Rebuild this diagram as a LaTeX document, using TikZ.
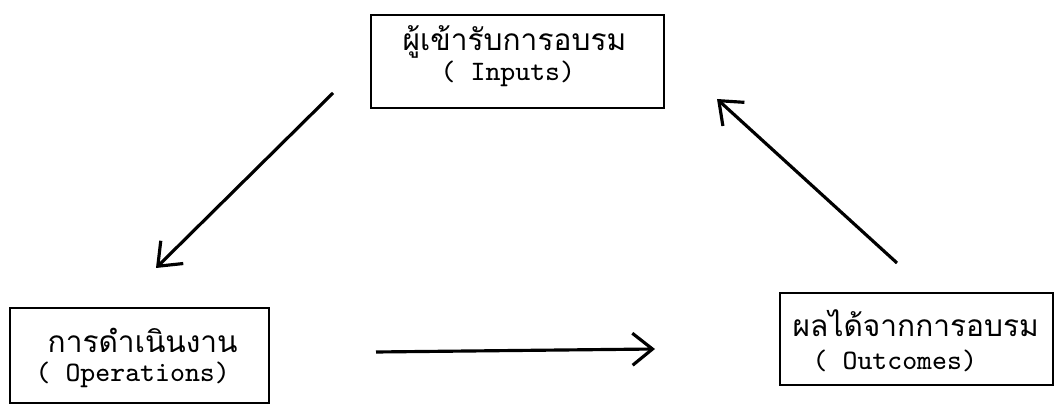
\documentclass[tikz,border=0pt]{standalone}
\usepackage{fontspec}
\newfontfamily\thaifont[Script=Thai]{Loma}
\usetikzlibrary{arrows.meta}
\tikzset{
  box/.style={draw, line width=0.6pt, inner sep=0pt},
  thtext/.style={anchor=west, inner sep=0pt, font=\thaifont\fontsize{8.5pt}{10pt}\selectfont},
  entext/.style={anchor=west, inner sep=0pt, font=\ttfamily\fontsize{8pt}{9pt}\selectfont},
  flow/.style={-{Straight Barb[length=2mm,width=3.2mm]}, line width=0.9pt},
}
\begin{document}
\begin{tikzpicture}[x=1cm,y=-1cm]
    \useasboundingbox (0,0) rectangle (10.54,4.05);
    % boxes
    \node[box, minimum width=2.93cm, minimum height=0.93cm] (inputs) at (5.175,0.615) {};
    \node[box, minimum width=2.59cm, minimum height=0.95cm] (operations) at (1.395,3.555) {};
    \node[box, minimum width=2.73cm, minimum height=0.92cm] (outcomes) at (9.165,3.39) {};
    % texts
    \node[thtext] (inputsth) at (4.02,0.42) {ผู้เข้ารับการอบรม};
    \node[entext] (inputsen) at (4.40,0.74) {( Inputs)};
    \node[thtext] (operationsth) at (0.47,3.40) {การดำเนินงาน};
    \node[entext] (operationsen) at (0.35,3.75) {( Operations)};
    \node[thtext] (outcomesth) at (7.92,3.23) {ผลได้จากการอบรม};
    \node[entext] (outcomesen) at (8.12,3.61) {( Outcomes)};
    % arrows
    \coordinate (a1s) at (3.33,0.93);
    \coordinate (a1e) at (1.56,2.68);
    \coordinate (a2s) at (3.76,3.52);
    \coordinate (a2e) at (6.55,3.49);
    \coordinate (a3s) at (8.97,2.63);
    \coordinate (a3e) at (7.17,0.99);
    \draw [flow] (a1s) -- (a1e);
    \draw [flow] (a2s) -- (a2e);
    \draw [flow] (a3s) -- (a3e);
  \end{tikzpicture}
\end{document}
